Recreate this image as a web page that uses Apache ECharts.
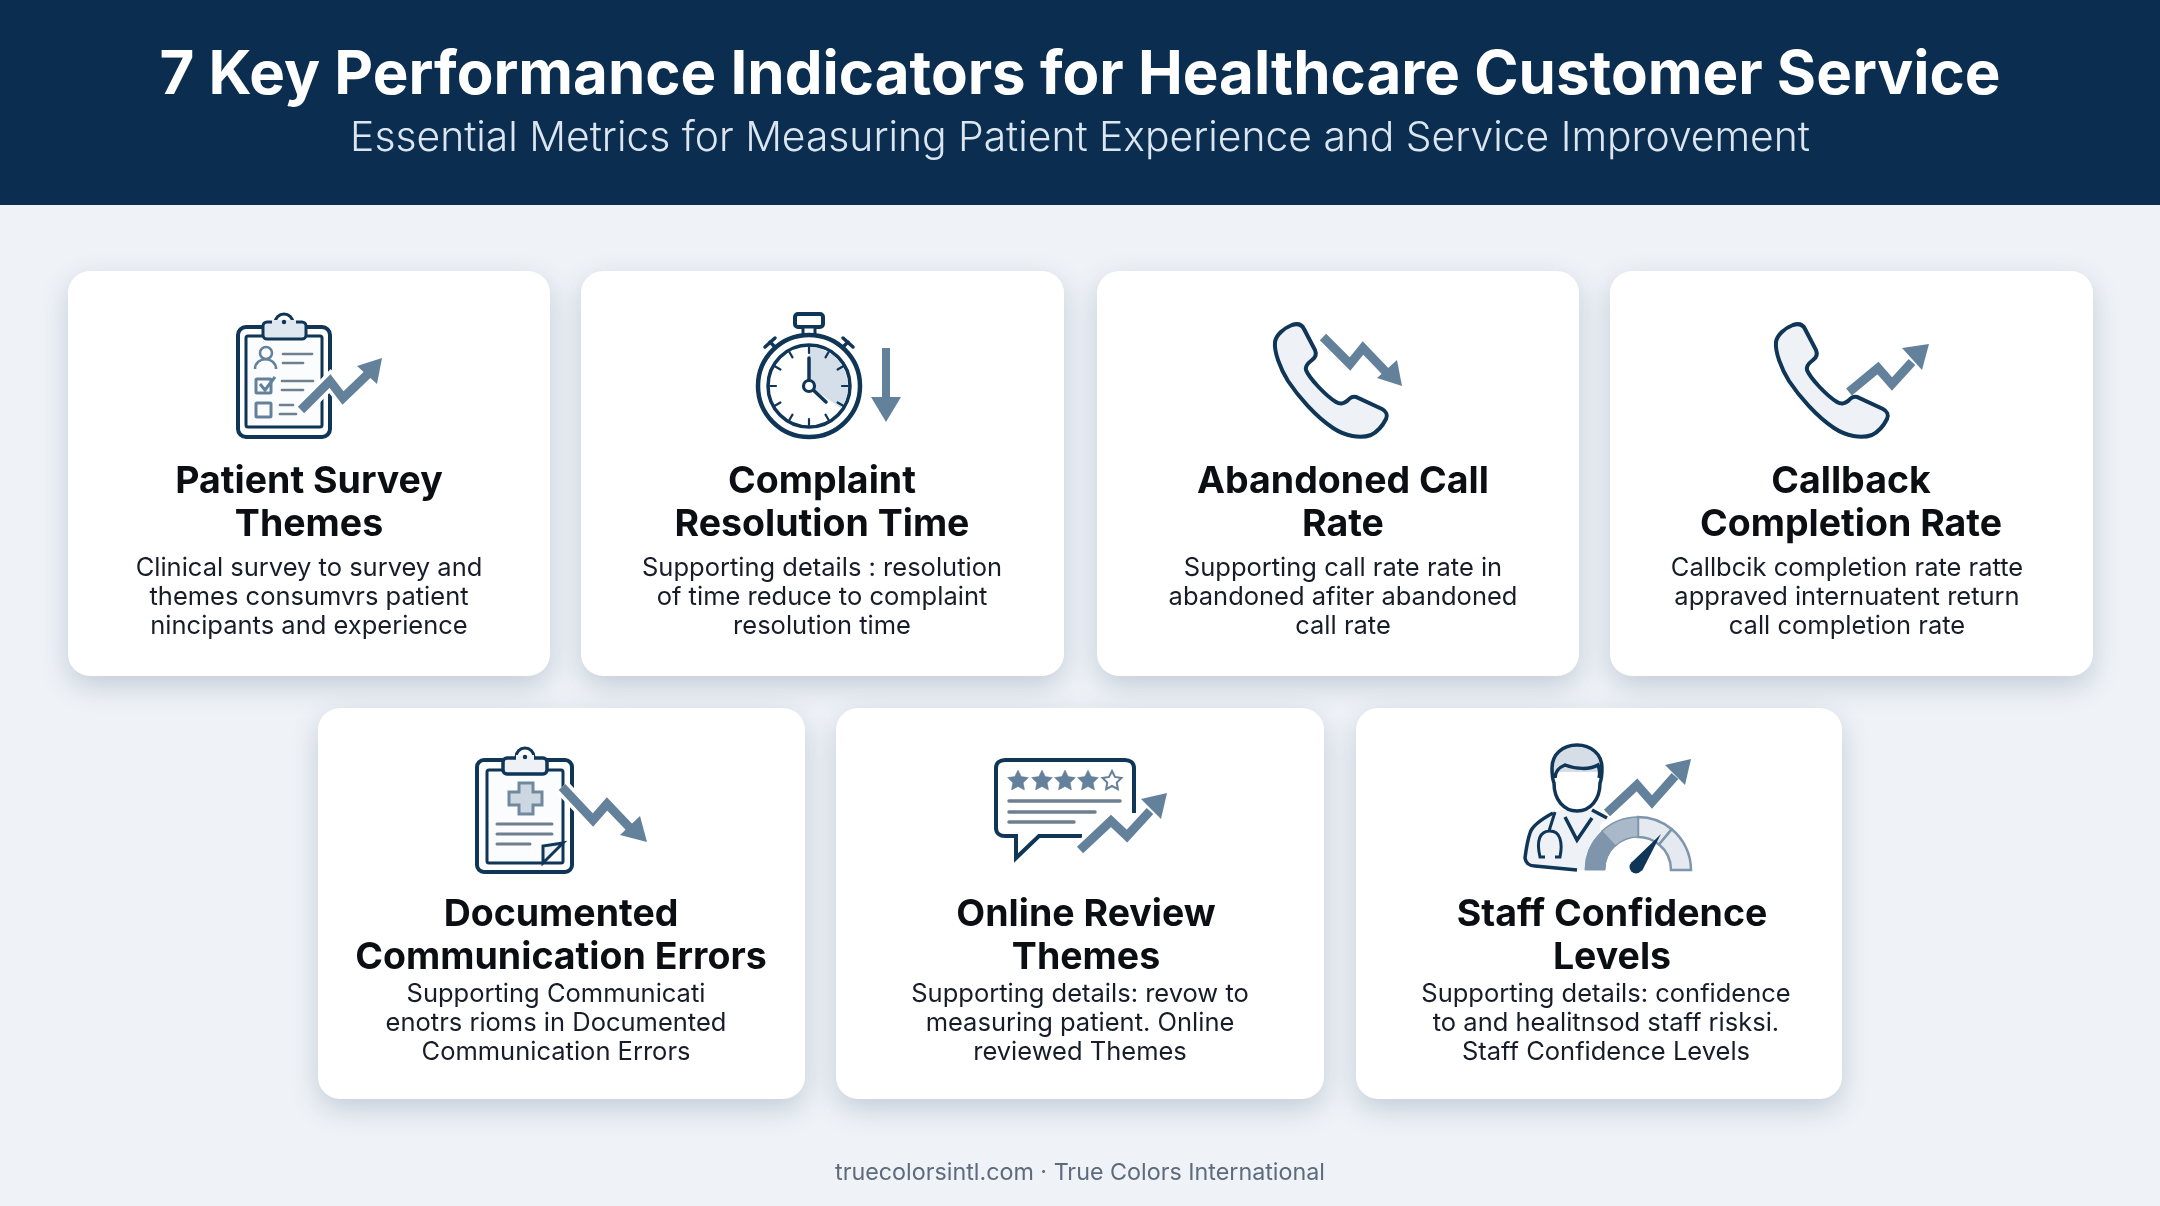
<!DOCTYPE html>
<html>
<head>
<meta charset="utf-8">
<title>7 Key Performance Indicators</title>
<style>
html, body { margin: 0; padding: 0; background: #eff3f8; }
#main { width: 2160px; height: 1206px; }
</style>
<script src="https://cdn.jsdelivr.net/npm/echarts@6/dist/echarts.min.js"></script>
</head>
<body>
<div id="main"></div>
<script>
// texts
var mainTitle = '7 Key Performance Indicators for Healthcare Customer Service';
var subTitle = 'Essential Metrics for Measuring Patient Experience and Service Improvement';
var footerText = 'truecolorsintl.com · True Colors International';
var kpiTitles = [
    ['Patient Survey', 'Themes'],
    ['Complaint', 'Resolution Time'],
    ['Abandoned Call', 'Rate'],
    ['Callback', 'Completion Rate'],
    ['Documented', 'Communication Errors'],
    ['Online Review', 'Themes'],
    ['Staff Confidence', 'Levels']
];
var kpiDetails = [
    ['Clinical survey to survey and', 'themes consumvrs patient', 'nincipants and experience'],
    ['Supporting details : resolution', 'of time reduce to complaint', 'resolution time'],
    ['Supporting call rate rate in', 'abandoned afiter abandoned', 'call rate'],
    ['Callbcik completion rate ratte', 'appraved internuatent return', 'call completion rate'],
    ['Supporting Communicati', 'enotrs rioms in Documented', 'Communication Errors'],
    ['Supporting details: revow to', 'measuring patient. Online', 'reviewed Themes'],
    ['Supporting details: confidence', 'to and healitnsod staff risksi.', 'Staff Confidence Levels']
];

// card layout
var cardLeft = [68, 581, 1097, 1610, 318, 836, 1356];
var cardRight = [550, 1064, 1579, 2093, 805, 1324, 1842];
var titleCenter = [309, 822, 1343, 1851, 561, 1086, 1612];
var detailCenter = [309, 822, 1343, 1847, 556, 1080, 1606];

var DARK = '#0f3557', MID = '#64819c', GREY = '#6f7f8f', LIGHT = '#dfe7f0';
var els = [];
var shapeId = 0;

function svg(d, style, x, y) {
    var name = 'kpiPath' + (shapeId++);
    echarts.graphic.registerShape(name, echarts.graphic.extendPath(d, {}));
    els.push({ type: name, silent: true, x: x || 0, y: y || 0, style: style });
}
function box(x1, y1, x2, y2, r, fill, stroke, w) {
    els.push({
        type: 'rect', silent: true,
        shape: { x: x1, y: y1, width: x2 - x1, height: y2 - y1, r: r },
        style: { fill: fill || 'none', stroke: stroke || 'none', lineWidth: w || 0 }
    });
}
function ln(x1, y1, x2, y2, color, w) {
    els.push({
        type: 'line', silent: true,
        shape: { x1: x1, y1: y1, x2: x2, y2: y2 },
        style: { stroke: color, lineWidth: w, lineCap: 'round' }
    });
}
function circle(cx, cy, r, fill, stroke, w) {
    els.push({
        type: 'circle', silent: true,
        shape: { cx: cx, cy: cy, r: r },
        style: { fill: fill || 'none', stroke: stroke || 'none', lineWidth: w || 0 }
    });
}
function poly(points, fill) {
    els.push({ type: 'polygon', silent: true, shape: { points: points }, style: { fill: fill } });
}
function sector(cx, cy, r0, r, a0, a1, fill, stroke, w) {
    els.push({
        type: 'sector', silent: true,
        shape: { cx: cx, cy: cy, r0: r0, r: r, startAngle: a0 * Math.PI, endAngle: a1 * Math.PI, clockwise: true },
        style: { fill: fill, stroke: stroke || '#ffffff', lineWidth: w || 1 }
    });
}
function label(text, x, y, font, fill) {
    els.push({
        type: 'text', silent: true,
        style: { text: text, x: x, y: y, font: font, fill: fill, textAlign: 'center', textVerticalAlign: 'middle' }
    });
}
// zigzag trend arrow: line + head, optional white halo where it crosses the icon
function zig(points, head, halo) {
    if (halo) {
        els.push({
            type: 'polyline', silent: true, shape: { points: points },
            style: { stroke: '#ffffff', lineWidth: 16, fill: 'none', lineJoin: 'miter' }
        });
    }
    els.push({
        type: 'polyline', silent: true, shape: { points: points },
        style: { stroke: MID, lineWidth: 9, fill: 'none', lineJoin: 'miter' }
    });
    poly(head, MID);
}
function star(cx, cy, r, filled) {
    var pts = [];
    for (var i = 0; i < 10; i++) {
        var a = -Math.PI / 2 + i * Math.PI / 5, rr = i % 2 ? r * 0.5 : r;
        pts.push([cx + rr * Math.cos(a), cy + rr * Math.sin(a)]);
    }
    els.push({
        type: 'polygon', silent: true, shape: { points: pts },
        style: { fill: filled ? MID : '#ffffff', stroke: MID, lineWidth: filled ? 0.5 : 2 }
    });
}

function iconSurvey() {
    box(238, 327, 330, 437, 8, '#ffffff', DARK, 4);
    box(246, 336, 322, 427, 2, '#fbfcfd', DARK, 3);
    circle(284, 323, 9, '#ffffff', DARK, 3);
    box(263, 322, 306, 339, 4, LIGHT, DARK, 3);
    box(272, 320, 296, 325, 0, LIGHT);
    circle(284, 322, 2.2, DARK);
    circle(266, 353, 6, '#ffffff', MID, 2.5);
    svg('M255 369 C255 356 276 356 276 369', { fill: 'none', stroke: MID, lineWidth: 2.5 });
    ln(283, 354, 312, 354, GREY, 2.7);
    ln(283, 363, 303, 363, GREY, 2.7);
    box(256, 379, 271, 393, 1, 'none', MID, 3);
    svg('M260 384 L265 390 L275 377', { fill: 'none', stroke: MID, lineWidth: 3 });
    ln(282, 381, 313, 381, GREY, 2.7);
    ln(282, 390, 303, 390, GREY, 2.7);
    box(256, 403, 271, 417, 1, 'none', MID, 3);
    ln(280, 405, 293, 405, GREY, 2.7);
    ln(280, 414, 296, 414, GREY, 2.7);
    zig([[301, 410], [330, 381], [343, 398], [368, 374]], [[382, 358], [357, 366], [377, 384]], true);
}
function iconStopwatch() {
    var cx = 809, cy = 386;
    box(795, 314, 823, 327, 3, '#ffffff', DARK, 4);
    box(803, 327, 815, 336, 0, '#ffffff', DARK, 3);
    ln(765, 347, 775, 338, DARK, 3.5);
    ln(770, 342, 778, 350, DARK, 3.5);
    ln(853, 347, 843, 338, DARK, 3.5);
    ln(848, 342, 840, 350, DARK, 3.5);
    circle(cx, cy, 51, '#ffffff', DARK, 4.5);
    circle(cx, cy, 41, '#ffffff', DARK, 3.5);
    els.push({
        type: 'sector', silent: true,
        shape: { cx: cx, cy: cy, r0: 0, r: 39, startAngle: -Math.PI / 2, endAngle: 35 * Math.PI / 180, clockwise: true },
        style: { fill: '#d5dfe9' }
    });
    for (var i = 0; i < 12; i++) {
        var a = i * Math.PI / 6;
        ln(cx + 33 * Math.cos(a), cy + 33 * Math.sin(a), cx + 39 * Math.cos(a), cy + 39 * Math.sin(a), DARK, 2.2);
    }
    ln(cx, cy, cx, 358, DARK, 3.5);
    ln(cx, cy, 826, 402, DARK, 3.5);
    circle(cx, cy, 5.5, '#ffffff', DARK, 3.2);
    box(882, 348, 890, 400, 0, MID);
    poly([[871, 397], [901, 397], [886, 422]], MID);
}
var PHONE = 'M1292 325 C1298 323 1302 325 1304 329 L1315 350 C1317 355 1315 358 1312 360 C1308 363 1305 366 1306 370 ' +
    'C1309 378 1326 396 1336 402 C1341 405 1344 403 1347 401 C1350 398 1352 396 1356 397 L1382 409 ' +
    'C1386 411 1388 415 1386 419 C1382 427 1377 432 1371 435 C1360 439 1345 436 1333 428 ' +
    'C1315 416 1298 396 1288 381 C1280 368 1274 352 1275 342 C1276 335 1284 328 1292 325Z';
function iconPhoneDown() {
    svg(PHONE, { fill: '#eef2f7', stroke: DARK, lineWidth: 4 });
    zig([[1323, 337], [1350, 364], [1363, 348], [1386, 372]], [[1402, 386], [1377, 378], [1397, 360]]);
}
function iconPhoneUp() {
    svg(PHONE, { fill: '#eef2f7', stroke: DARK, lineWidth: 4 }, 501, 0);
    zig([[1849, 392], [1878, 368], [1892, 384], [1912, 362]], [[1929, 344], [1902, 348], [1922, 370]]);
}
function iconDocument() {
    box(477, 760, 572, 872, 7, '#ffffff', DARK, 4);
    box(487, 770, 563, 863, 2, '#fbfcfd', DARK, 3);
    circle(525, 757, 9, '#ffffff', DARK, 3);
    box(503, 758, 547, 774, 4, '#eef2f6', DARK, 3.5);
    box(516, 755, 534, 760, 0, '#eef2f6');
    circle(525, 757, 2.2, DARK);
    svg('M519 783 h14 v9 h9 v13 h-9 v9 h-14 v-9 h-10 v-13 h10z', { fill: '#ccd7e2', stroke: '#71899f', lineWidth: 3 });
    ln(497, 824, 552, 824, GREY, 3);
    ln(497, 834, 552, 834, GREY, 3);
    ln(497, 844, 530, 844, GREY, 3);
    svg('M563 843 L543 863 L543 846 Z', { fill: '#eef2f6', stroke: DARK, lineWidth: 3 });
    zig([[562, 787], [593, 820], [607, 804], [632, 830]], [[647, 842], [620, 835], [640, 816]], true);
}
function iconReview() {
    svg('M1134 813 L1134 768 C1134 763 1130 760 1125 760 L1005 760 C1000 760 996 763 996 768 L996 828 ' +
        'C996 833 1000 836 1005 836 L1016 836 L1016 858 L1039 836 L1082 836',
        { fill: '#ffffff', stroke: DARK, lineWidth: 4 });
    star(1018, 781, 11, true);
    star(1042, 781, 11, true);
    star(1065, 781, 11, true);
    star(1088, 781, 11, true);
    star(1112, 781, 10, false);
    ln(1009, 801, 1120, 801, GREY, 3.5);
    ln(1009, 812, 1095, 812, GREY, 3.5);
    ln(1009, 822, 1074, 822, GREY, 3.5);
    zig([[1080, 850], [1111, 821], [1127, 836], [1150, 811]], [[1167, 793], [1141, 799], [1161, 819]], true);
}
function iconStaff() {
    var st = { fill: 'none', stroke: DARK, lineWidth: 3.5 };
    svg('M1553 813 C1540 820 1532 826 1530 833 C1527 842 1526 850 1525 858 C1526 866 1532 867 1540 867 L1578 870 L1600 870 L1600 825 L1607 818 L1592 810 L1562 810Z',
        { fill: '#eef2f7' });
    svg('M1577 745 C1592 745 1602 757 1602 772 L1552 772 C1552 757 1562 745 1577 745Z', { fill: '#d5dde6' });
    svg('M1554 783 C1552 778 1552 772 1552 768 C1552 754 1563 745 1577 745 C1591 745 1602 754 1602 768 ' +
        'C1602 772 1602 778 1600 783 C1600 800 1590 811 1577 811 C1564 811 1554 800 1554 783Z', st);
    svg('M1555 778 C1555 770 1560 767 1565 765 C1575 769 1590 770 1598 765 C1600 770 1600 774 1599 778', st);
    svg('M1553 813 C1540 820 1532 826 1530 833 C1527 842 1526 850 1525 858 C1526 864 1530 866 1535 866 L1577 870', st);
    svg('M1565 817 L1577 840 L1592 818', st);
    svg('M1592 810 L1607 818', st);
    svg('M1555 812 L1549 831 M1545 857 L1540 857 C1536 840 1540 831 1550 831 C1560 831 1563 842 1560 857 L1555 857',
        { fill: 'none', stroke: DARK, lineWidth: 3 });
    zig([[1607, 813], [1637, 785], [1652, 802], [1675, 776]], [[1691, 759], [1665, 765], [1685, 785]]);
    sector(1638, 870, 33, 53, 1.5, 1.72, '#e4eaf0', '#7f95ab', 2.5);
    sector(1638, 870, 33, 53, 1.72, 2, '#e4eaf0', '#7f95ab', 2.5);
    sector(1638, 870, 33, 53, 1, 1.26, '#7f95ab', '#7f95ab', 1);
    sector(1638, 870, 33, 53, 1.26, 1.5, '#a9b9c9', '#7f95ab', 1.5);
    poly([[1661, 834], [1631, 863], [1642, 871]], DARK);
    circle(1636, 867, 6.5, DARK);
}
var drawIcon = [iconSurvey, iconStopwatch, iconPhoneDown, iconPhoneUp, iconDocument, iconReview, iconStaff];

// header
box(0, 0, 2160, 205, 0, '#0b2e50');
label(mainTitle, 1080, 76, '700 60px Inter', '#ffffff');
label(subTitle, 1080, 139, '300 40.8px Inter', '#dbe6f0');

// cards
for (var i = 0; i < 7; i++) {
    var cardTop = i < 4 ? 271 : 708, cardBottom = i < 4 ? 676 : 1099;
    els.push({
        type: 'rect', silent: true,
        shape: { x: cardLeft[i], y: cardTop, width: cardRight[i] - cardLeft[i], height: cardBottom - cardTop, r: 22 },
        style: { fill: '#ffffff', shadowBlur: 28, shadowOffsetY: 10, shadowColor: 'rgba(45,70,100,0.22)' }
    });
}
for (var i = 0; i < 7; i++) {
    drawIcon[i]();
    var t1 = i < 4 ? 482 : 915, d1 = i < 4 ? 568 : 994;
    kpiTitles[i].forEach(function (s, k) {
        label(s, titleCenter[i], t1 + k * 43, '700 37.5px Inter', '#0b0f14');
    });
    kpiDetails[i].forEach(function (s, k) {
        label(s, detailCenter[i], d1 + k * 29, '400 25.5px Inter', '#161d28');
    });
}
label(footerText, 1080, 1173, '400 23.3px Inter', '#5d6b7c');

var myChart = echarts.init(document.getElementById('main'));
myChart.setOption({
    backgroundColor: '#eff3f8',
    animation: false,
    graphic: { elements: els }
});
</script>
</body>
</html>
